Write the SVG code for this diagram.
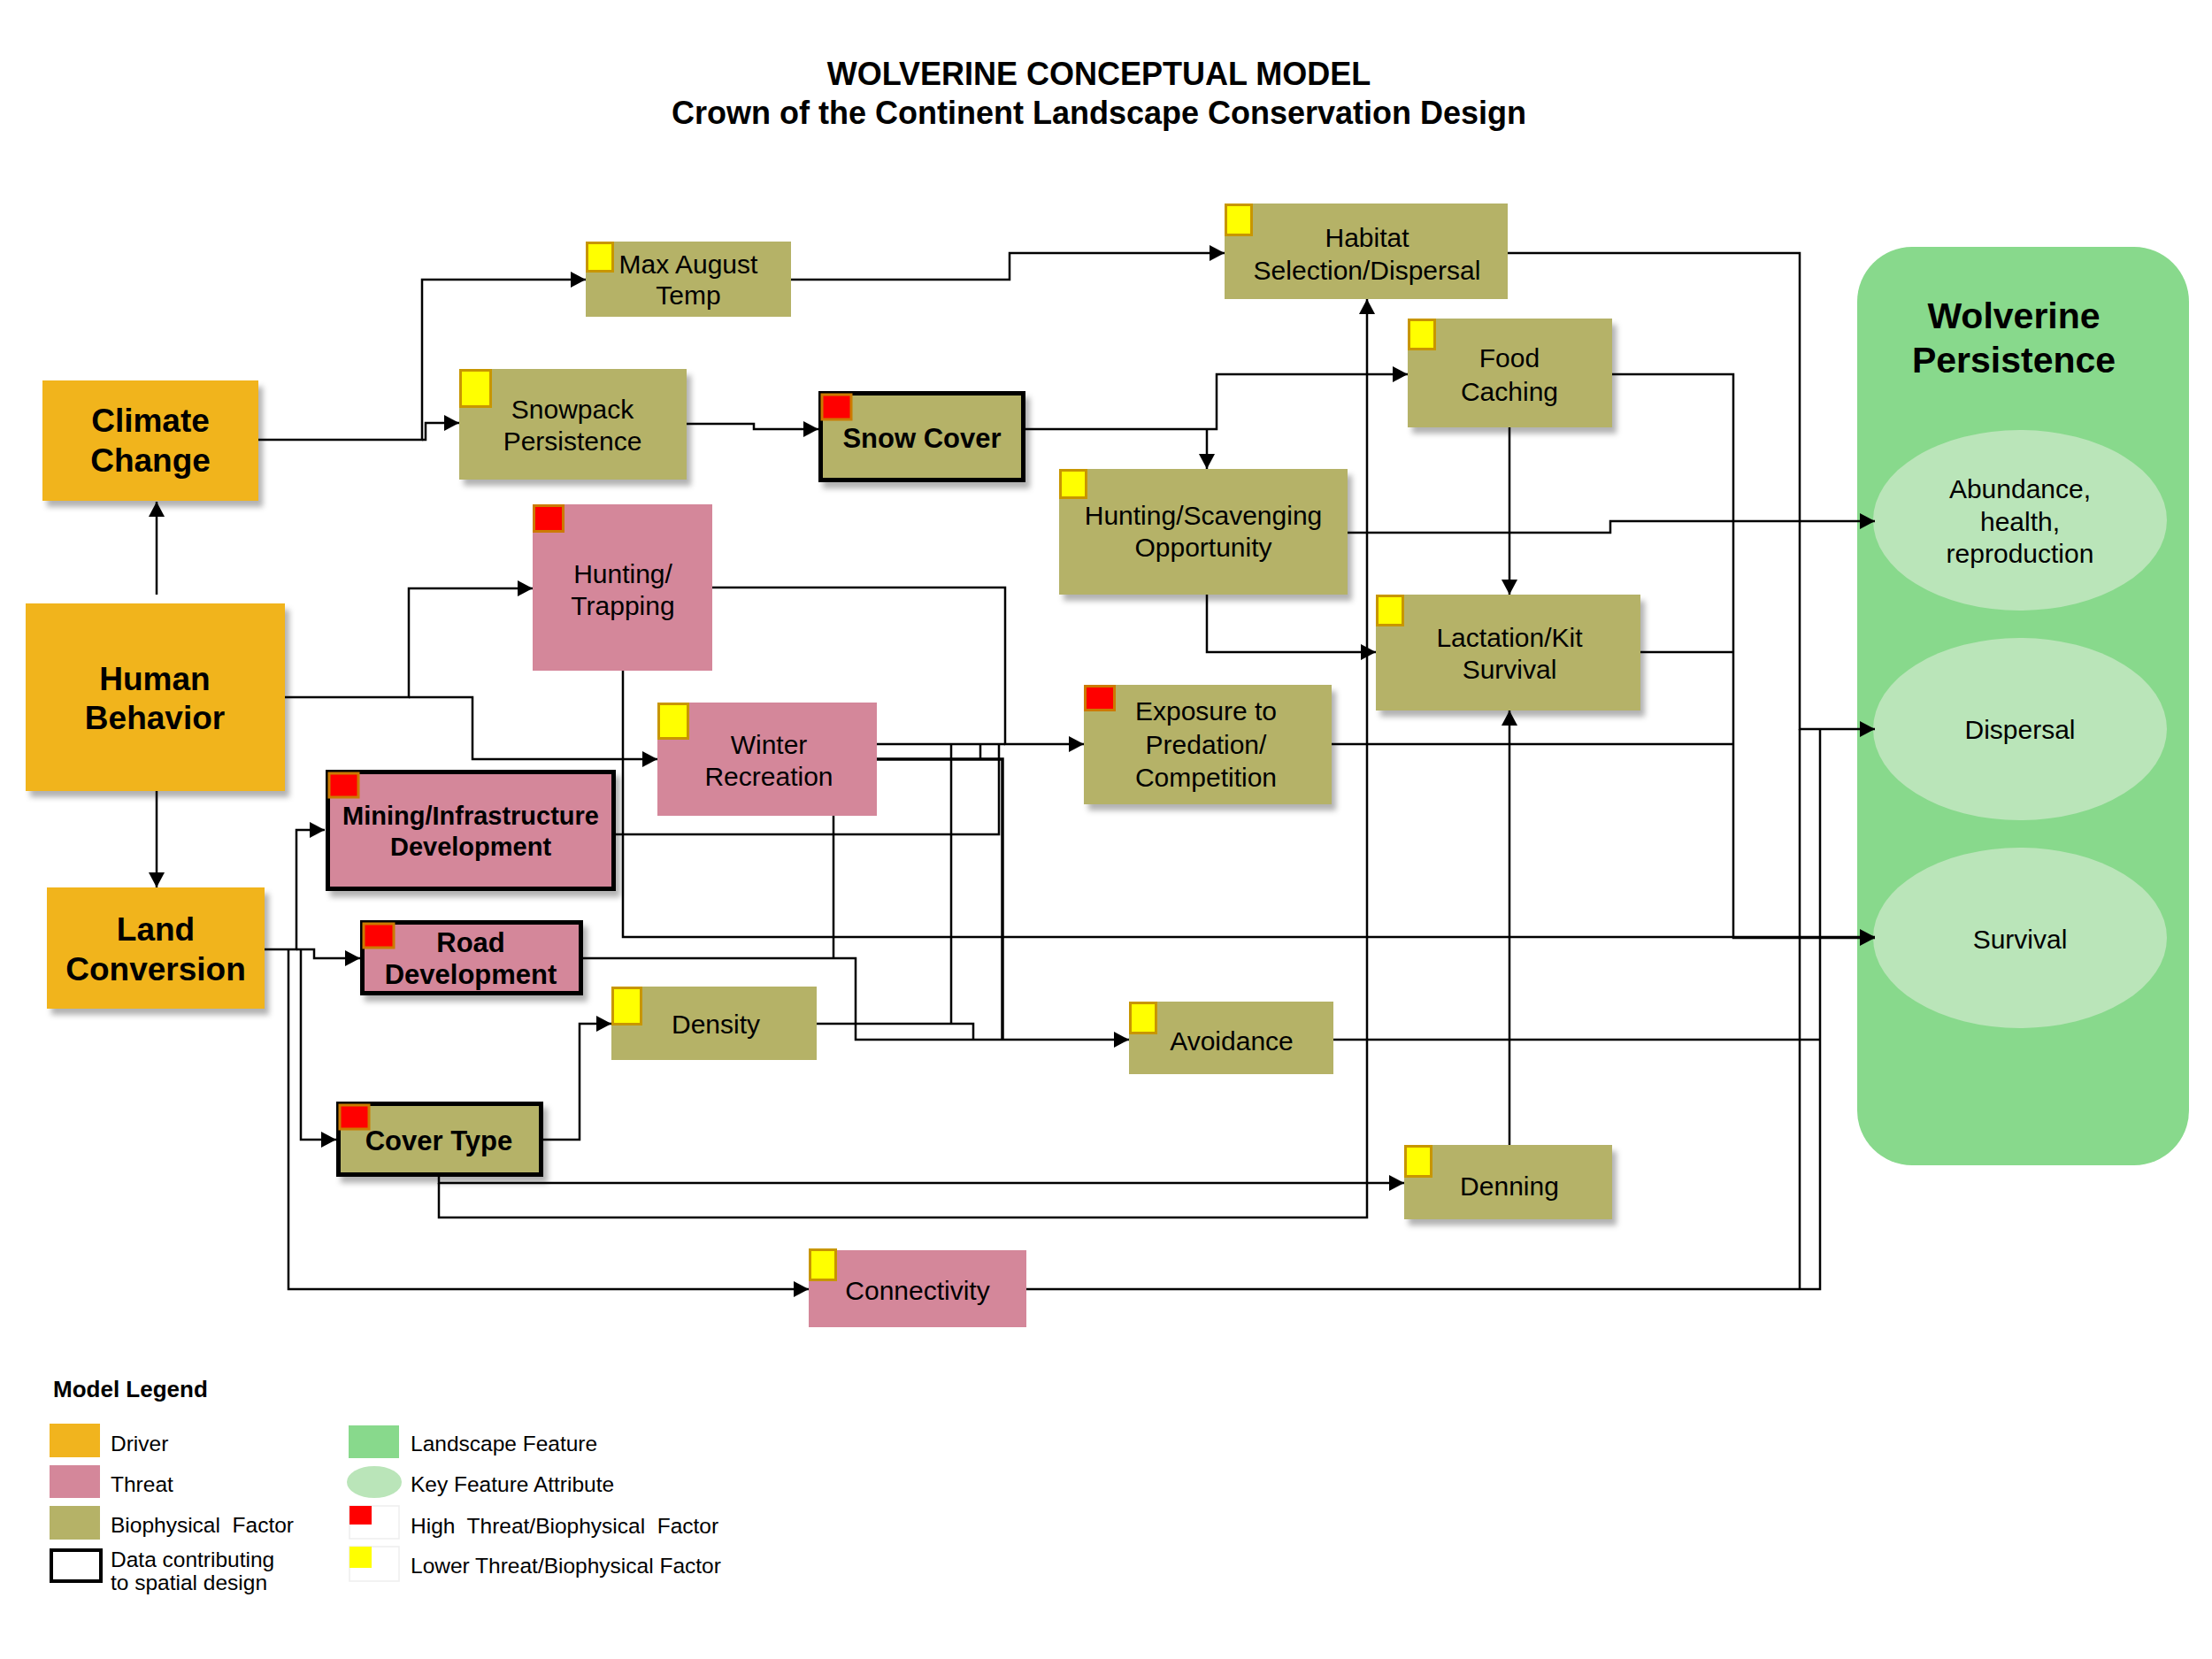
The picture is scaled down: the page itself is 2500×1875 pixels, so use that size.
<svg xmlns="http://www.w3.org/2000/svg" width="2500" height="1875" viewBox="0 0 2500 1875">
<defs>
<style>
.drv{fill:#F1B41E}
.thr{fill:#D4879A}
.bio{fill:#B5B267}
.land{fill:#88D98C}
.attr{fill:#BAE5B9}
.data{stroke:#000;stroke-width:5}
.hi{fill:#FF0000;stroke:#CC7A00;stroke-width:3}
.lo{fill:#FFFF00;stroke:#C89600;stroke-width:3}
.t{font-family:"Liberation Sans",Arial,sans-serif;font-size:30px;text-anchor:middle;fill:#000}
.tb{font-weight:bold;font-size:31px}
.td{font-weight:bold;font-size:37px}
.ti{font-family:"Liberation Sans",Arial,sans-serif;font-weight:bold;font-size:36px;text-anchor:middle;fill:#000}
.lg{font-family:"Liberation Sans",Arial,sans-serif;font-size:24.5px;fill:#000}
.c{fill:none;stroke:#000;stroke-width:2.5}
.ca{marker-end:url(#ah)}
.sh{filter:url(#shadow)}
</style>
<marker id="ah" markerUnits="userSpaceOnUse" markerWidth="18" markerHeight="18" refX="17" refY="9" orient="auto">
<path d="M0,0 L17,9 L0,18 z" fill="#000"/>
</marker>
<filter id="shadow" x="-10%" y="-10%" width="130%" height="140%">
<feDropShadow dx="5" dy="7" stdDeviation="3" flood-color="#000" flood-opacity="0.3"/>
</filter>
</defs>
<rect width="2500" height="1875" fill="#fff"/>

<text class="ti" x="1242" y="96">WOLVERINE CONCEPTUAL MODEL</text>
<text class="ti" x="1242" y="140">Crown of the Continent Landscape Conservation Design</text>

<g id="wolverine-persistence">
<rect class="land" x="2099" y="279" width="375" height="1038" rx="62" ry="62"/>
<text class="t" x="2276" y="371" style="font-weight:bold;font-size:41px">Wolverine</text>
<text class="t" x="2276" y="421" style="font-weight:bold;font-size:41px">Persistence</text>
</g>
<g id="abundance">
<ellipse class="attr" cx="2283" cy="588" rx="166" ry="102"/>
<text class="t" x="2283" y="563">Abundance,</text>
<text class="t" x="2283" y="600">health,</text>
<text class="t" x="2283" y="636">reproduction</text>
</g>
<g id="dispersal">
<ellipse class="attr" cx="2283" cy="824" rx="166" ry="103"/>
<text class="t" x="2283" y="835">Dispersal</text>
</g>
<g id="survival">
<ellipse class="attr" cx="2283" cy="1060" rx="166" ry="102"/>
<text class="t" x="2283" y="1072">Survival</text>
</g>

<g id="connectors">
<path class="c ca" d="M292,497 H477 V316 H662"/>
<path class="c ca" d="M477,497 H481 V478 H519"/>
<path class="c ca" d="M894,316 H1141 V286 H1384"/>
<path class="c ca" d="M776,479 H852 V485 H925"/>
<path class="c ca" d="M1159,485 H1375 V423 H1591"/>
<path class="c ca" d="M1364,485 V530"/>
<path class="c ca" d="M1704,286 H2034 V824 H2119"/>
<path class="c" d="M2034,824 V1457"/>
<path class="c ca" d="M1706,483 V672"/>
<path class="c ca" d="M1822,423 H1959 V1060 H2119"/>
<path class="c ca" d="M1523,602 H1820 V589 H2119"/>
<path class="c ca" d="M1364,672 V737 H1555"/>
<path class="c" d="M1854,737 H1959"/>
<path class="c" d="M1505,841 H1959"/>
<path class="c ca" d="M177,672 V567"/>
<path class="c ca" d="M177,894 V1003"/>
<path class="c ca" d="M322,788 H462 V665 H602"/>
<path class="c ca" d="M462,788 H534 V858 H743"/>
<path class="c ca" d="M805,664 H1136 V841 H1225"/>
<path class="c ca" d="M704,758 V1059 H2119"/>
<path class="c" d="M991,841 H1136"/>
<path class="c" style="stroke-width:3.5" d="M991,858 H1133 V1175"/>
<path class="c" d="M1108,841 V858"/>
<path class="c" d="M1075,841 V1157"/>
<path class="c" d="M696,943 H1129 V841"/>
<path class="c" d="M942,922 V1083"/>
<path class="c ca" d="M659,1083 H967 V1175 H1276"/>
<path class="c" d="M923,1157 H1100 V1175"/>
<path class="c ca" d="M299,1073 H335 V938 H367"/>
<path class="c ca" d="M335,1073 H355 V1083 H407"/>
<path class="c ca" d="M340,1073 V1288 H380"/>
<path class="c ca" d="M326,1073 V1457 H914"/>
<path class="c ca" d="M613,1288 H655 V1157 H691"/>
<path class="c ca" d="M496,1329 V1337 H1587"/>
<path class="c ca" d="M496,1337 V1376 H1545 V338"/>
<path class="c ca" d="M1706,1294 V803"/>
<path class="c" d="M1160,1457 H2057 V824"/>
<path class="c" d="M1507,1175 H2057"/>
</g>

<g id="climate-change">
<rect class="drv sh" x="48" y="430" width="244" height="136"/>
<text class="t td" x="170" y="488">Climate</text>
<text class="t td" x="170" y="533">Change</text>
</g>
<g id="human-behavior">
<rect class="drv sh" x="29" y="682" width="293" height="212"/>
<text class="t td" x="175" y="780">Human</text>
<text class="t td" x="175" y="824">Behavior</text>
</g>
<g id="land-conversion">
<rect class="drv sh" x="53" y="1003" width="246" height="137"/>
<text class="t td" x="176" y="1063">Land</text>
<text class="t td" x="176" y="1108">Conversion</text>
</g>

<g id="max-august-temp">
<rect class="bio" x="662" y="273" width="232" height="85"/>
<rect class="lo" x="663.5" y="274.5" width="29" height="32"/>
<text class="t" x="778" y="309">Max August</text>
<text class="t" x="778" y="344">Temp</text>
</g>
<g id="snowpack-persistence">
<rect class="bio sh" x="519" y="417" width="257" height="125"/>
<rect class="lo" x="520.5" y="418.5" width="34" height="41"/>
<text class="t" x="647" y="473">Snowpack</text>
<text class="t" x="647" y="509">Persistence</text>
</g>
<g id="snow-cover">
<rect class="bio data sh" x="927.5" y="444.5" width="229" height="98"/>
<rect class="hi" x="929" y="446" width="33" height="28"/>
<text class="t tb" x="1042" y="506">Snow Cover</text>
</g>
<g id="habitat-selection-dispersal">
<rect class="bio" x="1384" y="230" width="320" height="108"/>
<rect class="lo" x="1385.5" y="231.5" width="29" height="34"/>
<text class="t" x="1545" y="279">Habitat</text>
<text class="t" x="1545" y="316">Selection/Dispersal</text>
</g>
<g id="food-caching">
<rect class="bio sh" x="1591" y="360" width="231" height="123"/>
<rect class="lo" x="1592.5" y="361.5" width="29" height="33"/>
<text class="t" x="1706" y="415">Food</text>
<text class="t" x="1706" y="453">Caching</text>
</g>
<g id="hunting-scavenging-opportunity">
<rect class="bio sh" x="1197" y="530" width="326" height="142"/>
<rect class="lo" x="1198.5" y="531.5" width="29" height="31"/>
<text class="t" x="1360" y="593">Hunting/Scavenging</text>
<text class="t" x="1360" y="629">Opportunity</text>
</g>
<g id="lactation-kit-survival">
<rect class="bio sh" x="1555" y="672" width="299" height="131"/>
<rect class="lo" x="1556.5" y="673.5" width="29" height="33"/>
<text class="t" x="1706" y="731">Lactation/Kit</text>
<text class="t" x="1706" y="767">Survival</text>
</g>
<g id="exposure-predation-competition">
<rect class="bio sh" x="1225" y="774" width="280" height="135"/>
<rect class="hi" x="1226.5" y="775.5" width="33" height="27"/>
<text class="t" x="1363" y="814">Exposure to</text>
<text class="t" x="1363" y="852">Predation/</text>
<text class="t" x="1363" y="889">Competition</text>
</g>
<g id="hunting-trapping">
<rect class="thr" x="602" y="570" width="203" height="188"/>
<rect class="hi" x="603.5" y="571.5" width="33" height="29"/>
<text class="t" x="704" y="659">Hunting/</text>
<text class="t" x="704" y="695">Trapping</text>
</g>
<g id="winter-recreation">
<rect class="thr" x="743" y="794" width="248" height="128"/>
<rect class="lo" x="744.5" y="795.5" width="33" height="39"/>
<text class="t" x="869" y="852">Winter</text>
<text class="t" x="869" y="888">Recreation</text>
</g>
<g id="mining-infrastructure-development">
<rect class="thr data sh" x="370.5" y="872.5" width="323" height="132"/>
<rect class="hi" x="372" y="874" width="33" height="27"/>
<text class="t tb" x="532" y="932" style="font-size:29px">Mining/Infrastructure</text>
<text class="t tb" x="532" y="967" style="font-size:29px">Development</text>
</g>
<g id="road-development">
<rect class="thr data sh" x="409.5" y="1042.5" width="247" height="80"/>
<rect class="hi" x="411" y="1044" width="34" height="27"/>
<text class="t tb" x="532" y="1076">Road</text>
<text class="t tb" x="532" y="1112">Development</text>
</g>
<g id="density">
<rect class="bio" x="691" y="1115" width="232" height="83"/>
<rect class="lo" x="692.5" y="1116.5" width="32" height="41"/>
<text class="t" x="809" y="1168">Density</text>
</g>
<g id="cover-type">
<rect class="bio data sh" x="382.5" y="1247.5" width="229" height="80"/>
<rect class="hi" x="384" y="1249" width="33" height="27"/>
<text class="t tb" x="496" y="1300">Cover Type</text>
</g>
<g id="avoidance">
<rect class="bio" x="1276" y="1132" width="231" height="82"/>
<rect class="lo" x="1277.5" y="1133.5" width="29" height="34"/>
<text class="t" x="1392" y="1187">Avoidance</text>
</g>
<g id="denning">
<rect class="bio sh" x="1587" y="1294" width="235" height="84"/>
<rect class="lo" x="1588.5" y="1295.5" width="29" height="34"/>
<text class="t" x="1706" y="1351">Denning</text>
</g>
<g id="connectivity">
<rect class="thr" x="914" y="1413" width="246" height="87"/>
<rect class="lo" x="915.5" y="1412.5" width="29" height="34"/>
<text class="t" x="1037" y="1469">Connectivity</text>
</g>

<g id="legend">
<text class="lg" x="60" y="1579" style="font-weight:bold;font-size:26px">Model Legend</text>
<rect class="drv" x="56" y="1609" width="57" height="38"/>
<text class="lg" x="125" y="1640">Driver</text>
<rect class="thr" x="56" y="1656" width="57" height="37"/>
<text class="lg" x="125" y="1686">Threat</text>
<rect class="bio" x="56" y="1702" width="57" height="38"/>
<text class="lg" x="125" y="1732" xml:space="preserve">Biophysical  Factor</text>
<rect x="58" y="1752" width="56" height="35" fill="#fff" stroke="#000" stroke-width="4"/>
<text class="lg" x="125" y="1771">Data contributing</text>
<text class="lg" x="125" y="1797">to spatial design</text>
<rect class="land" x="394" y="1611" width="57" height="37"/>
<text class="lg" x="464" y="1640">Landscape Feature</text>
<ellipse class="attr" cx="423" cy="1675" rx="31" ry="18"/>
<text class="lg" x="464" y="1686">Key Feature Attribute</text>
<rect x="395" y="1702" width="56" height="37" fill="#fff" stroke="#eee" stroke-width="1.5"/>
<rect x="395" y="1702" width="25" height="21" fill="#FF0000"/>
<text class="lg" x="464" y="1733" xml:space="preserve">High  Threat/Biophysical  Factor</text>
<rect x="395" y="1748" width="56" height="39" fill="#fff" stroke="#eee" stroke-width="1.5"/>
<rect x="395" y="1748" width="25" height="24" fill="#FFFF00"/>
<text class="lg" x="464" y="1778">Lower Threat/Biophysical Factor</text>
</g>
</svg>
